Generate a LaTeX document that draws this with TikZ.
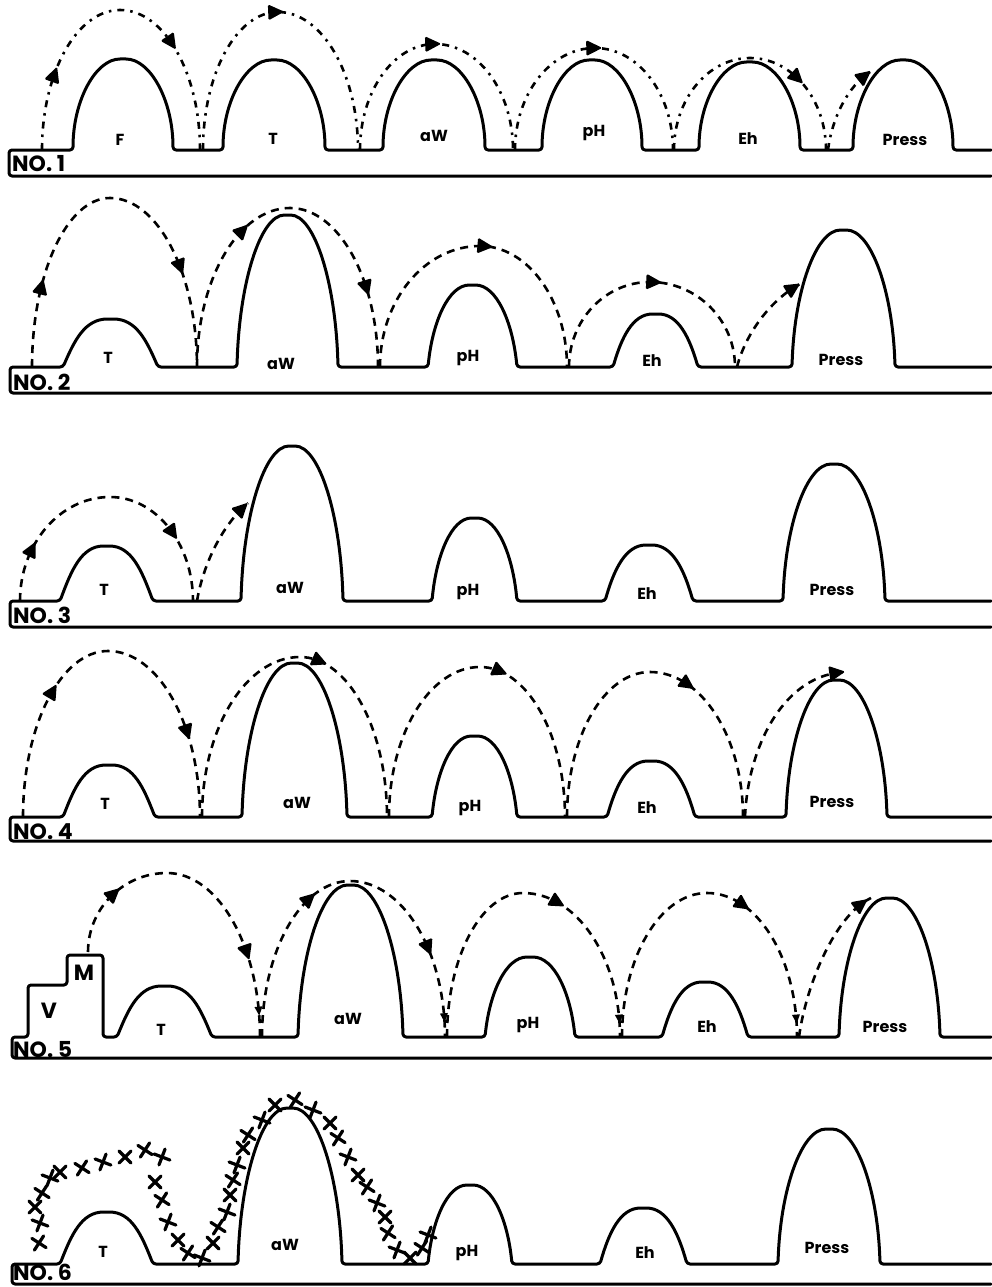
\documentclass[tikz,border=0pt]{standalone}
\usepackage{fontspec}
\setmainfont{Poppins}
\usetikzlibrary{decorations.markings}
% one hurdle inside a path: xl, xr, ground y, top y, base inset
\newcommand\hump[5]{-- (#1,#3) .. controls ({#1+#5*(#2-#1)},{#3-0.55*(#3-#4)}) and ({(#1+#2)/2-0.27*(#2-#1)},#4) .. ({(#1+#2)/2},#4) .. controls ({(#1+#2)/2+0.27*(#2-#1)},#4) and ({#2-#5*(#2-#1)},{#3-0.55*(#3-#4)}) .. (#2,#3)}
% a jump: options, start, peak, end
\newcommand\jump[7][]{\draw[traj,#1] (#2,#3) arc[start angle=180,end angle=90,x radius={#4pt-#2pt},y radius={#3pt-#5pt}] arc[start angle=90,end angle=0,x radius={#6pt-#4pt},y radius={#7pt-#5pt}];}
\tikzset{
  hl/.style={line width=3pt, line join=round, line cap=round, rounded corners=3pt},
  traj/.style={line width=2.6pt, dash pattern=on 8pt off 6pt},
  trajA/.style={line width=2.6pt, dash pattern=on 7pt off 6pt on 2.5pt off 6pt},
  arr/.style={postaction={decorate,decoration={markings,mark=at position #1 with {\fill[solid,rounded corners=1.5pt] (8pt,0pt) -- (-8pt,8pt) -- (-8pt,-8pt) -- cycle;}}}},
  sarr/.style={postaction={decorate,decoration={markings,mark=at position #1 with {\fill[solid] (5pt,0pt) -- (-4pt,4pt) -- (-4pt,-4pt) -- cycle;}}}},
  lab/.style={font=\fontsize{16}{16}\selectfont\bfseries, inner sep=0pt},
  nolab/.style={font=\fontsize{22}{22}\selectfont\bfseries, inner sep=0pt, anchor=base west},
  xm/.style={line width=3.2pt, line cap=round}
}
\begin{document}
\begin{tikzpicture}[x=1pt,y=-1pt]
\useasboundingbox (0,0) rectangle (991,1287);
% ---------------- Row 1
\draw[hl] (991,176) -- (9,176) -- (9,150) \hump{73}{173}{150}{59}{0} \hump{223}{325}{150}{60}{0} \hump{383}{485}{150}{60}{0} \hump{542}{642}{150}{60}{0} \hump{699}{800}{150}{62}{0} \hump{853}{953}{150}{60}{0} -- (991,150);
\node[nolab] (no1) at (12,171) {NO. 1};
\node[lab] (r1a) at (120,140) {F};
\node[lab] (r1b) at (273,139) {T};
\node[lab] (r1c) at (434,136) {aW};
\node[lab] (r1d) at (594,133) {pH};
\node[lab] (r1e) at (748,139) {Eh};
\node[lab] (r1f) at (905,140) {Press};
\jump[trajA,arr=0.22,arr=0.68]{42}{150}{120}{10}{200}{150}
\jump[trajA,arr=0.49]{203}{150}{278}{12}{358}{150}
\jump[trajA,arr=0.49]{360}{150}{435}{44}{513}{150}
\jump[trajA,arr=0.5]{515}{150}{595}{48}{673}{150}
\jump[trajA,arr=0.7]{674}{150}{750}{58}{826}{150}
\draw[trajA,arr=0.93] (828,150) .. controls (832,118) and (848,86) .. (870,72);
% ---------------- Row 2
\draw[hl] (991,393) -- (10,393) -- (10,367) \hump{63}{158}{367}{319}{0.12} \hump{237}{338}{367}{215}{0.02} \hump{428}{517}{367}{285}{0.05} \hump{613}{698}{367}{314}{0.1} \hump{792}{895}{367}{230}{0.02} -- (991,367);
\node[nolab] (no2) at (13,390) {NO. 2};
\node[lab] (r2a) at (108,358) {T};
\node[lab] (r2b) at (281,364) {aW};
\node[lab] (r2c) at (468,358) {pH};
\node[lab] (r2d) at (652,361) {Eh};
\node[lab] (r2e) at (841,360) {Press};
\jump[arr=0.2,arr=0.75]{32}{367}{110}{198}{197}{367}
\jump[arr=0.37,arr=0.8]{197}{367}{290}{208}{378}{367}
\jump[arr=0.53]{380}{367}{480}{246}{567}{367}
\jump[arr=0.51]{569}{367}{650}{282}{735}{367}
\draw[traj,arr=0.93] (737,367) .. controls (745,335) and (770,300) .. (800,284);
% ---------------- Row 3
\draw[hl] (991,627) -- (10,627) -- (10,601) \hump{60}{153}{601}{546}{0.12} \hump{241}{343}{601}{446}{0.02} \hump{432}{517}{601}{518}{0.05} \hump{605}{693}{601}{545}{0.1} \hump{783}{885}{601}{464}{0.02} -- (991,601);
\node[nolab] (no3) at (13,623) {NO. 3};
\node[lab] (r3a) at (104,590) {T};
\node[lab] (r3b) at (290,588) {aW};
\node[lab] (r3c) at (468,592) {pH};
\node[lab] (r3d) at (647,594) {Eh};
\node[lab] (r3e) at (832,590) {Press};
\jump[arr=0.18,arr=0.76]{20}{601}{110}{497}{193}{601}
\draw[traj,arr=0.93] (197,601) .. controls (203,565) and (222,525) .. (248,503);
% ---------------- Row 4
\draw[hl] (991,841) -- (10,841) -- (10,817) \hump{63}{155}{817}{765}{0.12} \hump{242}{347}{817}{663}{0.02} \hump{432}{517}{817}{736}{0.05} \hump{607}{695}{817}{761}{0.1} \hump{786}{887}{817}{680}{0.02} -- (991,817);
\node[nolab] (no4) at (13,839) {NO. 4};
\node[lab] (r4a) at (105,804) {T};
\node[lab] (r4b) at (297,803) {aW};
\node[lab] (r4c) at (470,808) {pH};
\node[lab] (r4d) at (647,808) {Eh};
\node[lab] (r4e) at (832,802) {Press};
\jump[arr=0.32,arr=0.79]{23}{817}{108}{651}{200}{817}
\jump[arr=0.56]{202}{817}{300}{657}{387}{817}
\jump[arr=0.56]{389}{817}{480}{667}{565}{817}
\jump[arr=0.6]{567}{817}{650}{672}{743}{817}
\draw[traj,arr=0.95] (745,817) .. controls (748,745) and (785,673) .. (847,672);
% ---------------- Row 5
\draw[hl] (991,1058) -- (12,1058) -- (12,1037) -- (28,1037) -- (28,985) -- (67,985) -- (67,955) -- (103,955) -- (103,1037) \hump{117}{212}{1037}{986}{0.12} \hump{298}{403}{1037}{885}{0.02} \hump{485}{575}{1037}{957}{0.05} \hump{662}{748}{1037}{982}{0.1} \hump{839}{940}{1037}{898}{0.02} -- (991,1037);
\node[nolab] (no5) at (13,1057) {NO. 5};
\node[font=\fontsize{22}{22}\selectfont\bfseries, inner sep=0pt] (vv) at (49,1011) {V};
\node[font=\fontsize{22}{22}\selectfont\bfseries, inner sep=0pt] (mm) at (84,973) {M};
\node[lab] (r5a) at (161,1030) {T};
\node[lab] (r5b) at (348,1019) {aW};
\node[lab] (r5c) at (528,1025) {pH};
\node[lab] (r5d) at (707,1027) {Eh};
\node[lab] (r5e) at (885,1027) {Press};
\jump[arr=0.2,arr=0.74,sarr=0.92]{88}{952}{167}{873}{260}{1037}
\jump[arr=0.38,arr=0.77,sarr=0.95]{262}{1037}{350}{881}{445}{1037}
\jump[arr=0.58,sarr=0.95]{447}{1037}{523}{893}{620}{1037}
\jump[arr=0.6,sarr=0.95]{622}{1037}{707}{893}{797}{1037}
\draw[traj,arr=0.93] (799,1037) .. controls (806,985) and (835,915) .. (871,898);
% ---------------- Row 6
\draw[hl] (991,1284) -- (12,1284) -- (12,1264) \hump{60}{153}{1264}{1212}{0.12} \hump{238}{342}{1264}{1108}{0.02} \hump{428}{512}{1264}{1185}{0.05} \hump{600}{687}{1264}{1208}{0.1} \hump{778}{880}{1264}{1129}{0.02} -- (991,1264);
\node[nolab] (no6) at (13,1280) {NO. 6};
\node[lab] (r6a) at (103,1252) {T};
\node[lab] (r6b) at (285,1245) {aW};
\node[lab] (r6c) at (467,1253) {pH};
\node[lab] (r6d) at (645,1253) {Eh};
\node[lab] (r6e) at (827,1248) {Press};
\foreach \x/\y [count=\i] in {39/1243,40/1223,35/1207,42/1193,50/1178,60/1172,82/1168,103/1162,125/1157,145/1150,162/1157,155/1182,162/1200,168/1222,178/1240,188/1253,202/1258,213/1243,218/1227,227/1212,230/1195,233/1180,237/1165,243/1148,248/1135,262/1120,275/1105,295/1100,313/1110,330/1123,338/1138,348/1157,358/1175,367/1187,377/1203,385/1217,388/1233,397/1250,410/1258,422/1248,428/1235}{
  \pgfmathsetmacro\rr{mod(\i,3)*12}
  \begin{scope}[shift={(\x,\y)},rotate=\rr]
    \draw[xm] (-6,-6) -- (6,6) (-6,6) -- (6,-6);
  \end{scope}
}
\end{tikzpicture}
\end{document}
